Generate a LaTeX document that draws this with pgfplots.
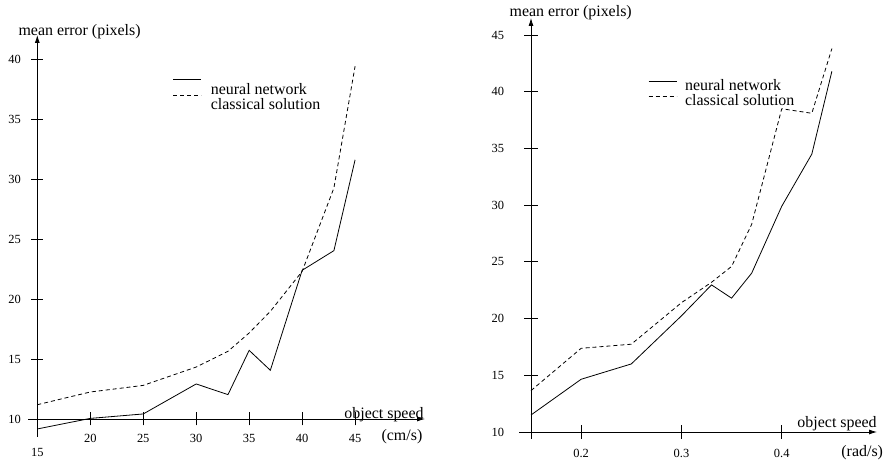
\documentclass[border=0pt]{standalone}
\usepackage{pgfplots}
\pgfplotsset{compat=1.18}
\usetikzlibrary{arrows.meta}
\usepackage{fontspec}
\setmainfont{Liberation Serif}
\pgfplotsset{
 myax/.style={
  scale only axis, clip=false,
  axis x line=bottom, axis y line=left,
  axis line style={line width=0.8bp, -{Latex[length=8bp,width=5bp]}},
  every tick label/.append style={font=\fontsize{12.5}{14}\selectfont},
  /pgf/number format/assume math mode=true,
  legend cell align=left,
  legend style={draw=none, fill=none, font=\fontsize{16}{16}\selectfont, inner sep=0pt},
  label style={font=\fontsize{16}{18}\selectfont},
 },
 nn/.style={black, line width=0.8bp},
 cs/.style={black, line width=0.8bp, dash pattern=on 4bp off 3bp},
}
\begin{document}
\begin{tikzpicture}
\path[use as bounding box] (0,0) rectangle (884bp,464bp);
% Left panel
\begin{axis}[myax, at={(37.3bp,45bp)}, anchor=south west, width=387.7bp, height=384bp,
 tick align=center, major tick length=12bp, tick style={black, line width=0.8bp},
 xmin=15, xmax=51.6, ymin=10, ymax=42,
 xtick={20,25,...,45}, ytick={10,15,...,40},
 extra x ticks={15}, extra x tick style={tick label style={yshift=-14bp}},
 xticklabel style={yshift=-6bp},
 yticklabel style={xshift=-7bp},
 xlabel={object speed}, xlabel style={at={(axis description cs:0.783,0.0104)}, anchor=west},
 ylabel={mean error (pixels)}, ylabel style={at={(axis description cs:-0.0575,1.008)}, anchor=west, rotate=-90},
 legend image code/.code={\draw[#1] (0bp,10bp) -- (28bp,10bp); \path (35bp,10bp);},
 legend style={at={(axis cs:27.8,38.35)}, anchor=north west, row sep=-3bp},
]
\addplot[nn] coordinates {(15,9.17) (20,10.05) (25,10.42) (30,12.92) (33,12.03) (35,15.72) (37,14.06) (40,22.39) (43,24.03) (45,31.6)};
\addplot[cs] coordinates {(15,11.19) (20,12.25) (25,12.8) (30,14.33) (33,15.64) (35,17.17) (37,18.97) (40,22.3) (43,29.25) (45,39.4)};
\legend{neural network, classical solution}
\draw[line width=0.8bp] (axis cs:15,10) -- (axis cs:15,8.5);
\draw[line width=0.8bp] (axis cs:15,10) -- (axis cs:14.12,10);
\pgfplotsinvokeforeach{20,25,30,35,40,45}{\draw[line width=0.8bp] (axis cs:#1,10) ++(0bp,-6.5bp) -- ++(0bp,13bp);}
\pgfplotsinvokeforeach{15,20,25,30,35,40}{\draw[line width=0.8bp] (axis cs:15,#1) ++(-5.5bp,0bp) -- ++(11bp,0bp);}
\node[anchor=west, font=\fontsize{16}{18}\selectfont] at (axis description cs:0.879,-0.047) {(cm/s)};
\end{axis}
% Right panel
\begin{axis}[myax, at={(531bp,32bp)}, anchor=south west, width=346bp, height=414bp,
 tick align=center, major tick length=13bp, tick style={black, line width=0.8bp},
 xmin=0.15, xmax=0.495, ymin=10, ymax=46.5,
 xtick={0.2,0.3,0.4}, ytick={10,15,...,45},
 xticklabel style={/pgf/number format/fixed, /pgf/number format/precision=1, yshift=-7bp},
 yticklabel style={xshift=-17bp},
 xlabel={object speed}, xlabel style={at={(axis description cs:0.760,0.019)}, anchor=west},
 ylabel={mean error (pixels)}, ylabel style={at={(axis description cs:-0.072,1.012)}, anchor=west, rotate=-90},
 legend image code/.code={\draw[#1] (0bp,4bp) -- (28bp,4bp); \path (34bp,6bp);},
 legend style={at={(axis cs:0.2667,41.3)}, anchor=north west, row sep=-1.5bp},
]
\addplot[nn] coordinates {(0.15,11.5) (0.2,14.65) (0.25,16.0) (0.3,20.24) (0.33,22.97) (0.35,21.8) (0.37,24.0) (0.4,29.9) (0.43,34.5) (0.45,41.8)};
\addplot[cs] coordinates {(0.15,13.65) (0.2,17.38) (0.25,17.74) (0.3,21.4) (0.33,23.2) (0.35,24.6) (0.37,28.3) (0.4,38.5) (0.43,38.1) (0.45,43.8)};
\legend{neural network, classical solution}
\draw[line width=0.8bp] (axis cs:0.15,10) -- (axis cs:0.15,9.38);
\draw[line width=0.8bp] (axis cs:0.15,10) -- (axis cs:0.138,10);
\pgfplotsinvokeforeach{0.2,0.3,0.4}{\draw[line width=0.8bp] (axis cs:#1,10) ++(0bp,-6.5bp) -- ++(0bp,13bp);}
\pgfplotsinvokeforeach{15,20,25,30,35,40,45}{\draw[line width=0.8bp] (axis cs:0.15,#1) ++(-7bp,0bp) -- ++(14bp,0bp);}
\node[anchor=west, font=\fontsize{16}{18}\selectfont] at (axis description cs:0.887,-0.0507) {(rad/s)};
\end{axis}
\end{tikzpicture}
\end{document}
